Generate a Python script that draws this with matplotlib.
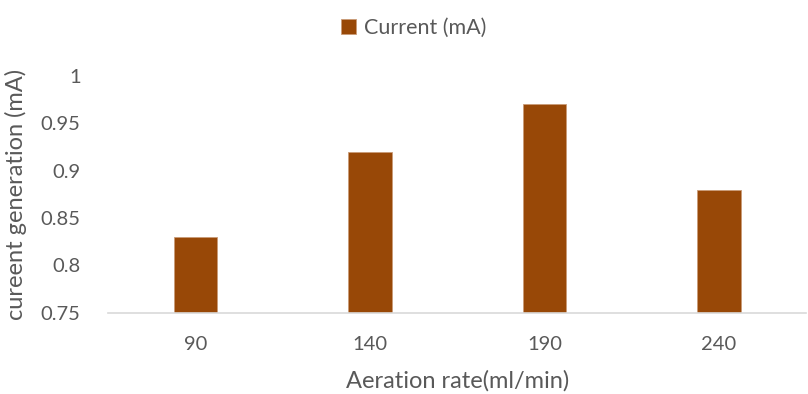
import matplotlib
matplotlib.use("Agg")
import matplotlib.pyplot as plt
import numpy as np

# Aeration rate vs. measured current
aeration_rates = ["90", "140", "190", "240"]
current_ma = [0.83, 0.92, 0.97, 0.88]
y_ticks = [0.75, 0.8, 0.85, 0.9, 0.95, 1.0]
y_tick_labels = ["0.75", "0.8", "0.85", "0.9", "0.95", "1"]

bar_color = "#984807"
text_color = "#595959"
font = "Lato"

fig = plt.figure(figsize=(8.08, 3.94), dpi=100)
ax = fig.add_axes([0.134, 0.206, 0.864, 0.601])

x = np.arange(len(aeration_rates))
ax.bar(x, current_ma, width=0.25, color=bar_color, edgecolor="#c99b78",
       linewidth=0.6, label="Current (mA)", zorder=2)

ax.set_xlim(-0.5, len(aeration_rates) - 0.5)
ax.set_ylim(0.75, 1.0)
ax.set_yticks(y_ticks)
ax.set_yticklabels(y_tick_labels)
ax.set_xticks(x)
ax.set_xticklabels(aeration_rates)

for lbl in ax.get_xticklabels() + ax.get_yticklabels():
    lbl.set_fontfamily(font)
    lbl.set_fontsize(14.5)
    lbl.set_color(text_color)

ax.tick_params(axis="both", length=0)
ax.tick_params(axis="x", pad=17)
ax.tick_params(axis="y", pad=20)

for side in ("top", "right", "left"):
    ax.spines[side].set_visible(False)
ax.spines["bottom"].set_color("#d9d9d9")
ax.spines["bottom"].set_linewidth(1.2)

ax.set_xlabel("Aeration rate(ml/min)", fontfamily=font, fontsize=17,
              color=text_color, labelpad=12)
ax.set_ylabel("cureent generation (mA)", fontfamily=font, fontsize=17,
              color=text_color, labelpad=10)

leg = fig.legend(loc="center", bbox_to_anchor=(0.512, 0.93), frameon=False,
                 prop={"family": font, "size": 15.5}, handlelength=0.7,
                 handleheight=0.7, handletextpad=0.4)
for t in leg.get_texts():
    t.set_color(text_color)

fig.savefig("out.png", dpi=100)
